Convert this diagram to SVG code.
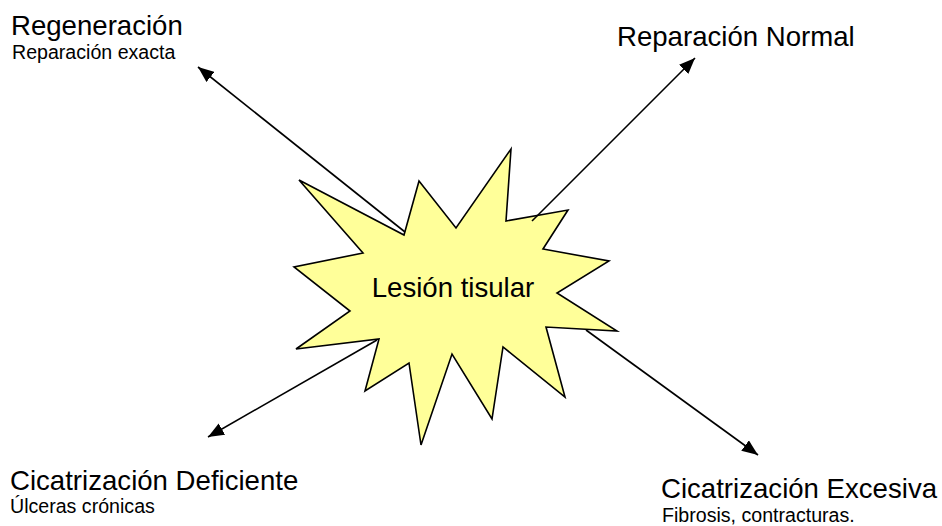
<svg xmlns="http://www.w3.org/2000/svg" width="942" height="526" viewBox="0 0 942 526">
  <style>
    text { font-family: "Liberation Sans", Arial, sans-serif; fill: #000; }
    .h { font-size: 27.6px; }
    .s { font-size: 19.6px; }
    .star { fill: #FFFF99; stroke: #000; stroke-width: 1.6; stroke-linejoin: miter; }
    .conn { stroke: #000; stroke-width: 1.6; fill: none; marker-end: url(#ah); }
  </style>
  <defs>
    <marker id="ah" markerUnits="userSpaceOnUse" markerWidth="17" markerHeight="13" refX="16" refY="6.5" orient="auto">
      <path d="M0,0 L16,6.5 L0,13 z" fill="#000"/>
    </marker>
  </defs>
  <rect width="942" height="526" fill="#fff"/>

  <g id="lesion">
    <polygon class="star" points="299,180 404,235 419,181 456,228 511,149 506,221 568,210 543,249 609,261 557,293 617,331 546,327 565,397 503,347 492,419 452,354 421,445 409,363 365,391 379,339 296,349 350,311 294,267 363,253"/>
    <text class="h" x="453" y="297" text-anchor="middle">Lesión tisular</text>
  </g>

  <g id="connectors">
    <line class="conn" x1="405" y1="232" x2="198" y2="67"/>
    <line class="conn" x1="532" y1="221" x2="695" y2="58"/>
    <line class="conn" x1="377" y1="340" x2="208" y2="437"/>
    <line class="conn" x1="586" y1="330" x2="758" y2="455"/>
  </g>

  <g id="regeneracion">
    <text class="h" x="11" y="35">Regeneración</text>
    <text class="s" x="12" y="59">Reparación exacta</text>
  </g>

  <g id="reparacion-normal">
    <text class="h" x="617" y="46">Reparación Normal</text>
  </g>

  <g id="cicatrizacion-deficiente">
    <text class="h" x="10" y="490">Cicatrización Deficiente</text>
    <text class="s" x="10" y="513">Úlceras crónicas</text>
  </g>

  <g id="cicatrizacion-excesiva">
    <text class="h" x="661" y="498">Cicatrización Excesiva</text>
    <text class="s" x="662" y="522">Fibrosis, contracturas.</text>
  </g>
</svg>
